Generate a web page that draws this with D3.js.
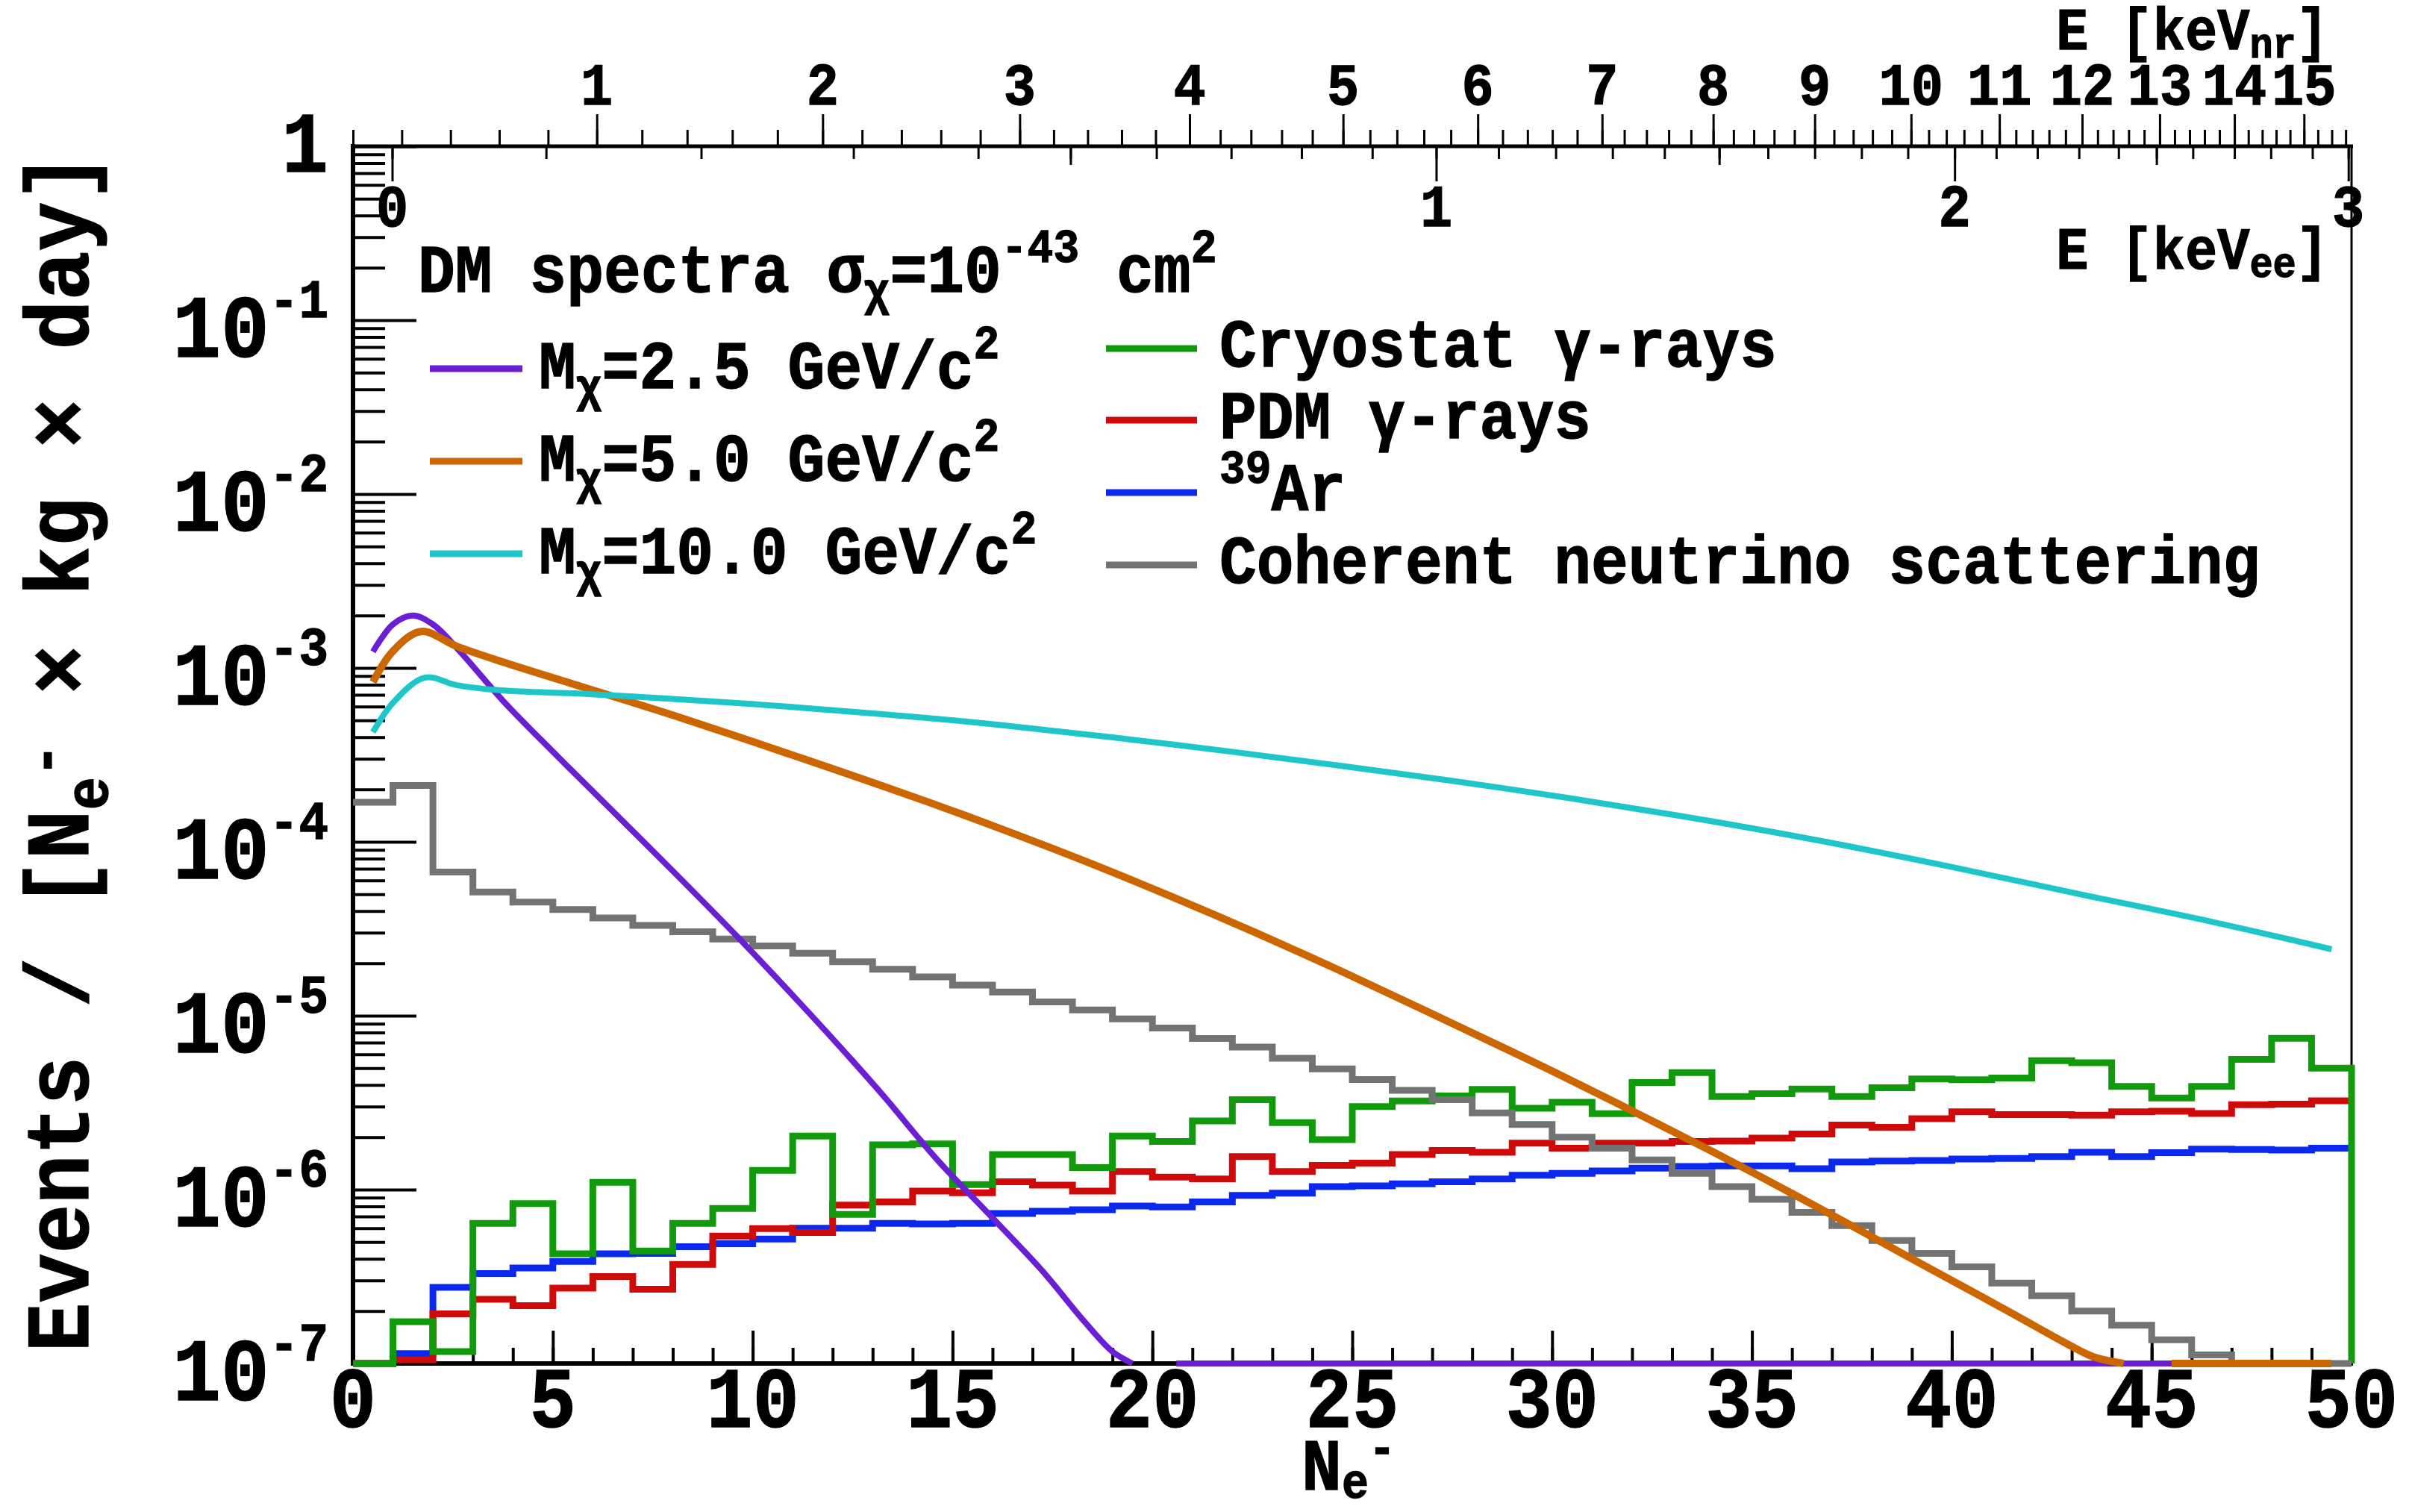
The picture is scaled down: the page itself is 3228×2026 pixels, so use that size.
<!DOCTYPE html>
<html>
<head>
<meta charset="utf-8">
<script src="https://cdn.jsdelivr.net/npm/d3@7"></script>
<style>
  html, body { margin: 0; padding: 0; background: #fff; }
  text { font-family: "Liberation Mono", "DejaVu Sans Mono", monospace; font-weight: bold; fill: #000;
         stroke: #000; stroke-width: 1.2px; }
</style>
</head>
<body>
<div id="chart"></div>
<script>
// ---------------- values ----------------
var xTicks = d3.range(0, 51, 5);
var yDecades = [-7, -6, -5, -4, -3, -2, -1, 0];

// secondary top axes: energy -> equivalent N_e- position
var nrTicks = d3.range(0, 16);
var nrTickNe = [0, 6.10, 11.75, 16.68, 20.93, 24.77, 28.14, 31.25, 34.03, 36.57, 38.98, 41.19, 43.26, 45.20, 47.07, 48.81];
var eeTicks = d3.range(0, 31).map(function (i) { return i / 10; });
var eeTickNe = [0.98, 4.83, 8.71, 12.52, 15.64, 17.95, 20.10, 21.97, 23.73, 25.50,
                27.10, 28.66, 30.09, 31.51, 32.81, 34.18, 35.40, 36.57, 37.74, 38.90,
                40.07, 41.11, 42.14, 43.18, 44.17, 45.12, 46.03, 47.07, 47.98, 49.02, 49.92];
var eeLabels = [0, 1, 2, 3];

// histograms, one value per N_e- bin (0-1, 1-2, ... 49-50); 0 = below the axis floor
var cryostat = [0, 1.74e-7, 1.17e-7, 6.4e-7, 8.3e-7, 4.27e-7, 1.10e-6, 4.44e-7, 6.4e-7, 7.8e-7,
                1.29e-6, 2.03e-6, 7.2e-7, 1.81e-6, 1.83e-6, 1.07e-6, 1.59e-6, 1.59e-6, 1.34e-6, 2.03e-6,
                1.89e-6, 2.48e-6, 3.29e-6, 2.43e-6, 1.94e-6, 3.0e-6, 3.23e-6, 3.46e-6, 3.77e-6, 2.94e-6,
                3.18e-6, 2.73e-6, 4.13e-6, 4.71e-6, 3.43e-6, 3.56e-6, 3.79e-6, 3.43e-6, 3.85e-6, 4.33e-6,
                4.28e-6, 4.38e-6, 5.52e-6, 5.36e-6, 3.92e-6, 3.36e-6, 3.92e-6, 5.61e-6, 7.41e-6, 5.0e-6];
var pdm = [0, 1.05e-7, 1.93e-7, 2.34e-7, 2.15e-7, 2.71e-7, 3.16e-7, 2.67e-7, 3.71e-7, 5.41e-7,
           5.97e-7, 5.66e-7, 8.15e-7, 8.5e-7, 9.8e-7, 9.6e-7, 1.11e-6, 1.06e-6, 9.8e-7, 1.27e-6,
           1.18e-6, 1.15e-6, 1.55e-6, 1.27e-6, 1.38e-6, 1.42e-6, 1.59e-6, 1.68e-6, 1.64e-6, 1.85e-6,
           1.73e-6, 1.85e-6, 1.85e-6, 1.89e-6, 1.90e-6, 1.98e-6, 2.09e-6, 2.35e-6, 2.28e-6, 2.56e-6,
           2.80e-6, 2.70e-6, 2.70e-6, 2.68e-6, 2.80e-6, 2.82e-6, 2.74e-6, 3.08e-6, 3.10e-6, 3.24e-6];
var ar39 = [0, 1.14e-7, 2.74e-7, 3.29e-7, 3.54e-7, 3.86e-7, 4.27e-7, 4.3e-7, 4.7e-7, 4.89e-7,
            5.2e-7, 6.0e-7, 6.0e-7, 6.4e-7, 6.35e-7, 6.4e-7, 7.28e-7, 7.5e-7, 7.65e-7, 8.05e-7,
            7.95e-7, 8.5e-7, 9.27e-7, 9.55e-7, 1.04e-6, 1.05e-6, 1.08e-6, 1.11e-6, 1.15e-6, 1.21e-6,
            1.24e-6, 1.28e-6, 1.33e-6, 1.36e-6, 1.37e-6, 1.37e-6, 1.32e-6, 1.44e-6, 1.46e-6, 1.47e-6,
            1.50e-6, 1.51e-6, 1.55e-6, 1.64e-6, 1.55e-6, 1.63e-6, 1.71e-6, 1.70e-6, 1.69e-6, 1.73e-6];
var cevns = [1.69e-4, 2.11e-4, 6.7e-5, 5.15e-5, 4.5e-5, 4.08e-5, 3.65e-5, 3.31e-5, 3.04e-5, 2.76e-5,
             2.52e-5, 2.29e-5, 2.04e-5, 1.85e-5, 1.67e-5, 1.50e-5, 1.37e-5, 1.20e-5, 1.08e-5, 9.6e-6,
             8.5e-6, 7.4e-6, 6.6e-6, 5.7e-6, 4.94e-6, 4.3e-6, 3.72e-6, 3.29e-6, 2.76e-6, 2.37e-6,
             2.0e-6, 1.73e-6, 1.48e-6, 1.24e-6, 1.04e-6, 8.8e-7, 7.4e-7, 6.2e-7, 5.1e-7, 4.3e-7,
             3.6e-7, 2.9e-7, 2.45e-7, 2.0e-7, 1.66e-7, 1.37e-7, 1.12e-7, 0, 0, 0];

// DM spectra [N_e-, rate]; null = gap in the drawn line
var dm25 = [[0.5, 1.24e-3], [1.0, 1.78e-3], [1.5, 2.0e-3], [2.0, 1.78e-3], [2.6, 1.3e-3], [3.8, 6.3e-4],
            [5.0, 3.3e-4], [6.0, 1.95e-4], [8.0, 6.8e-5], [9.7, 2.72e-5], [11.2, 1.17e-5], [12.5, 5.5e-6],
            [13.3, 3.4e-6], [14.6, 1.5e-6], [16.1, 6.5e-7], [17.25, 3.4e-7], [18.3, 1.74e-7], [19.0, 1.17e-7],
            [19.5, 1e-7], [20.0, null], [20.6, 1e-7], [45.5, 1e-7]];
var dm50 = [[0.5, 8.3e-4], [1.0, 1.25e-3], [1.7, 1.62e-3], [2.6, 1.33e-3], [3.7, 1.09e-3], [5.8, 7.7e-4],
            [8.0, 5.35e-4], [10.1, 3.7e-4], [12.2, 2.54e-4], [14.4, 1.69e-4], [16.2, 1.19e-4], [18.3, 7.76e-5],
            [20.5, 4.82e-5], [22.6, 2.99e-5], [24.8, 1.77e-5], [26.9, 1.05e-5], [29.0, 6.2e-6], [30.1, 4.68e-6],
            [31.2, 3.51e-6], [32.2, 2.69e-6], [33.4, 1.95e-6], [34.0, 1.66e-6], [35.0, 1.26e-6], [36.65, 7.9e-7],
            [38.3, 4.9e-7], [39.9, 3.09e-7], [41.6, 1.89e-7], [42.9, 1.29e-7], [43.55, 1.09e-7], [44.3, 1e-7],
            [45.0, null], [45.5, 1e-7], [49.5, 1e-7]];
var dm100 = [[0.5, 4.27e-4], [1.0, 6.3e-4], [1.8, 8.8e-4], [2.6, 7.96e-4], [3.7, 7.43e-4], [5.8, 7.1e-4],
             [8.0, 6.64e-4], [10.1, 6.17e-4], [12.2, 5.66e-4], [14.4, 5.15e-4], [16.2, 4.7e-4], [20.5, 3.63e-4],
             [24.8, 2.72e-4], [29.0, 2.0e-4], [33.2, 1.41e-4], [36.65, 1.02e-4], [39.9, 7.24e-5], [43.2, 5.0e-5],
             [46.5, 3.47e-5], [49.5, 2.41e-5]];

var dmMasses = ["2.5", "5.0", "10.0"];
var bgNames = ["Cryostat \u03b3-rays", "PDM \u03b3-rays", "Ar", "Coherent neutrino scattering"];

// ---------------- layout ----------------
var W = 3228, H = 2026;
var PL = 473, PR = 3151, PT = 196, PB = 1827;
var SY = 1.1; // the original lettering is slightly tall

var colPurple = "#6a1fd4", colOrange = "#cc6600", colCyan = "#1ec6c8";
var colGreen = "#119a0c", colRed = "#cf0a0a", colBlue = "#0a28ee", colGray = "#737373";

var svg = d3.select("#chart").append("svg")
    .attr("width", W)
    .attr("height", H)
    .style("background-color", "#fff");

var x = d3.scaleLinear().domain([0, 50]).range([PL, PR]);
var y = d3.scaleLog().domain([1e-7, 1]).range([PB, PT]);
var yc = function (v) { return y(Math.max(v, 1e-7)); };

var nrScale = d3.scaleLinear().domain(nrTicks).range(nrTickNe.map(function (v) { return x(v); }));
var eeScale = d3.scaleLinear().domain(eeTicks).range(eeTickNe.map(function (v) { return x(v); }));

function addText(parent, px, py, size, anchor, rot) {
    var t = "translate(" + px + "," + py + ")" + (rot ? " rotate(" + rot + ")" : "") + " scale(1," + SY + ")";
    return parent.append("text")
        .attr("transform", t)
        .attr("font-size", size)
        .attr("text-anchor", anchor || "start");
}

function ticks(axis, tx, ty, w) {
    var g = svg.append("g").attr("transform", "translate(" + tx + "," + ty + ")").call(axis);
    g.select(".domain").remove();
    g.selectAll("line").attr("stroke", "#000").attr("stroke-width", w);
    g.selectAll("text").remove();
    return g;
}

// bottom axis ticks (inside, pointing up)
ticks(d3.axisTop(x).tickValues(d3.range(0, 51)).tickSize(21).tickSizeOuter(0), 0, PB, 4);
ticks(d3.axisTop(x).tickValues(xTicks).tickSize(44).tickSizeOuter(0), 0, PB, 4);

// left axis ticks (inside, pointing right)
var yMinor = [];
yDecades.slice(0, -1).forEach(function (k) {
    d3.range(2, 10).forEach(function (m) { yMinor.push(m * Math.pow(10, k)); });
});
ticks(d3.axisRight(y).tickValues(yMinor).tickSize(43).tickSizeOuter(0), PL, 0, 4);
ticks(d3.axisRight(y).tickValues(yDecades.map(function (k) { return Math.pow(10, k); })).tickSize(85).tickSizeOuter(0), PL, 0, 4);

// top axis: keV_nr above the frame, keV_ee below it
var nrMinor = d3.range(0, 80).map(function (i) { return i / 5; }).filter(function (v) { return nrScale(v) <= PR + 1; });
ticks(d3.axisTop(nrScale).tickValues(nrMinor).tickSize(22).tickSizeOuter(0), 0, PT, 3);
ticks(d3.axisTop(nrScale).tickValues(nrTicks.slice(1)).tickSize(43).tickSizeOuter(0), 0, PT, 3);
ticks(d3.axisBottom(eeScale).tickValues(eeTicks).tickSize(17).tickSizeOuter(0), 0, PT, 3);
ticks(d3.axisBottom(eeScale).tickValues([0.5, 1.5, 2.5]).tickSize(25).tickSizeOuter(0), 0, PT, 3);
ticks(d3.axisBottom(eeScale).tickValues(eeLabels).tickSize(47).tickSizeOuter(0), 0, PT, 3);

// frame
svg.append("line").attr("x1", PL).attr("x2", PL).attr("y1", PT - 3).attr("y2", PB + 3).attr("stroke", "#000").attr("stroke-width", 6);
svg.append("line").attr("x1", PL - 3).attr("x2", PR + 2).attr("y1", PB).attr("y2", PB).attr("stroke", "#000").attr("stroke-width", 6);
svg.append("line").attr("x1", PL - 3).attr("x2", PR + 2).attr("y1", PT).attr("y2", PT).attr("stroke", "#000").attr("stroke-width", 5);
svg.append("line").attr("x1", PR).attr("x2", PR).attr("y1", PT).attr("y2", PB).attr("stroke", "#000").attr("stroke-width", 3);

// tick labels
var labels = svg.append("g");
xTicks.forEach(function (v) {
    addText(labels, x(v), 1912, 104, "middle").text(v);
});
yDecades.forEach(function (k) {
    if (k === 0) {
        addText(labels, 440, y(1) + 34, 104, "end").text("1");
    } else {
        var t = addText(labels, 440, y(Math.pow(10, k)) + 49, 108, "end");
        t.append("tspan").text("10");
        t.append("tspan").attr("font-size", 66).attr("dy", -48).text(String(k));
    }
});
nrTicks.slice(1).forEach(function (v) {
    addText(labels, nrScale(v), 140, 72, "middle").text(v);
});
eeLabels.forEach(function (v) {
    addText(labels, eeScale(v), 303, 72, "middle").text(v);
});

// axis titles
var tNr = addText(labels, 3120, 66, 72, "end");
tNr.append("tspan").text("E [keV");
tNr.append("tspan").attr("font-size", 52).attr("dy", 10).text("nr");
tNr.append("tspan").attr("dy", -10).text("]");
var tEe = addText(labels, 3120, 360, 72, "end");
tEe.append("tspan").text("E [keV");
tEe.append("tspan").attr("font-size", 52).attr("dy", 10).text("ee");
tEe.append("tspan").attr("dy", -10).text("]");

var tX = addText(labels, 1744, 1996, 90, "start");
tX.append("tspan").text("N");
tX.append("tspan").attr("font-size", 60).attr("dy", 10).text("e");
tX.append("tspan").attr("font-size", 60).attr("dy", -42).text("-");

var tY = addText(labels, 118, 1008, 110, "middle", -90);
tY.append("tspan").text("Events / [N");
tY.append("tspan").attr("font-size", 74).attr("dy", 24).text("e");
tY.append("tspan").attr("font-size", 74).attr("dy", -54).text("-");
tY.append("tspan").attr("dy", 30).text(" \u00d7 kg \u00d7 day]");

// ---------------- data ----------------
var plot = svg.append("g");

function stepPath(vals, dropEnd) {
    var pts = vals.map(function (v, i) { return [i, v]; });
    pts.push([50, vals[vals.length - 1]]);
    if (dropEnd) pts.push([50, 0]);
    return d3.line()
        .x(function (d) { return x(d[0]); })
        .y(function (d) { return yc(d[1]); })
        .curve(d3.curveStepAfter)(pts);
}

var curve = d3.line()
    .defined(function (d) { return d[1] !== null; })
    .x(function (d) { return x(d[0]); })
    .y(function (d) { return yc(d[1]); })
    .curve(d3.curveCatmullRom.alpha(0.5));

plot.append("path").attr("d", stepPath(ar39, false)).attr("fill", "none").attr("stroke", colBlue).attr("stroke-width", 9);
plot.append("path").attr("d", stepPath(pdm, false)).attr("fill", "none").attr("stroke", colRed).attr("stroke-width", 9);
plot.append("path").attr("d", stepPath(cryostat, true)).attr("fill", "none").attr("stroke", colGreen).attr("stroke-width", 9);
plot.append("path").attr("d", stepPath(cevns, false)).attr("fill", "none").attr("stroke", colGray).attr("stroke-width", 9);
plot.append("path").attr("d", curve(dm25)).attr("fill", "none").attr("stroke", colPurple).attr("stroke-width", 8);
plot.append("path").attr("d", curve(dm50)).attr("fill", "none").attr("stroke", colOrange).attr("stroke-width", 10);
plot.append("path").attr("d", curve(dm100)).attr("fill", "none").attr("stroke", colCyan).attr("stroke-width", 8);

// ---------------- legends ----------------
var leg = svg.append("g");
var tDM = addText(leg, 560, 391, 83, "start");
tDM.append("tspan").text("DM spectra \u03c3");
tDM.append("tspan").attr("font-size", 58).attr("dy", 16).text("\u03c7");
tDM.append("tspan").attr("dy", -16).text("=10");
tDM.append("tspan").attr("font-size", 58).attr("dy", -36).text("-43");
tDM.append("tspan").attr("dy", 36).text(" cm");
tDM.append("tspan").attr("font-size", 58).attr("dy", -36).text("2");

var dmCols = [colPurple, colOrange, colCyan];
var dmRowY = [494, 618, 742];
dmMasses.forEach(function (m, i) {
    leg.append("line").attr("x1", 576).attr("x2", 700).attr("y1", dmRowY[i]).attr("y2", dmRowY[i])
        .attr("stroke", dmCols[i]).attr("stroke-width", 9);
    var t = addText(leg, 722, dmRowY[i] + 26, 83, "start");
    t.append("tspan").text("M");
    t.append("tspan").attr("font-size", 58).attr("dy", 16).text("\u03c7");
    t.append("tspan").attr("dy", -16).text("=" + m + " GeV/c");
    t.append("tspan").attr("font-size", 58).attr("dy", -36).text("2");
});

var bgCols = [colGreen, colRed, colBlue, colGray];
var bgRowY = [467, 563, 660, 757];
bgNames.forEach(function (name, i) {
    leg.append("line").attr("x1", 1482).attr("x2", 1604).attr("y1", bgRowY[i]).attr("y2", bgRowY[i])
        .attr("stroke", bgCols[i]).attr("stroke-width", 9);
    var t = addText(leg, 1634, bgRowY[i] + 24, 83, "start");
    if (name === "Ar") {
        t.append("tspan").attr("font-size", 58).attr("dy", -34).text("39");
        t.append("tspan").attr("dy", 34).text("Ar");
    } else {
        t.text(name);
    }
});
</script>
</body>
</html>
